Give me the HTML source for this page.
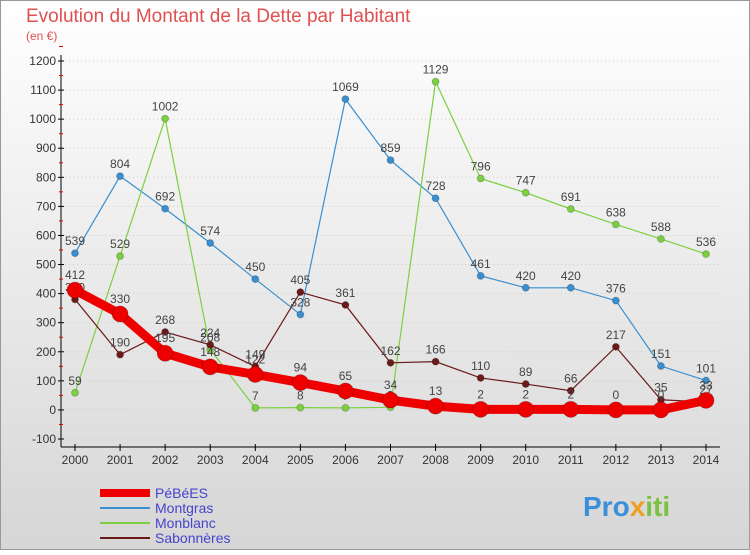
<!DOCTYPE html>
<html><head><meta charset="utf-8"><style>
body{margin:0;width:750px;height:550px;overflow:hidden;font-family:"Liberation Sans",sans-serif;}
</style></head><body>
<svg width="750" height="550" viewBox="0 0 750 550">
<defs><linearGradient id="bg" x1="0" y1="0" x2="0" y2="1"><stop offset="0" stop-color="#ffffff"/><stop offset="1" stop-color="#d6d6d6"/></linearGradient></defs>
<rect x="0.5" y="0.5" width="749" height="549" fill="url(#bg)" stroke="#999"/>
<text x="26" y="22" font-size="19" fill="#e05050">Evolution du Montant de la Dette par Habitant</text>
<text x="26" y="40" font-size="12" fill="#e05050">(en €)</text>
<g id="axes"></g><g id="series"></g><g id="legend"></g>
<text x="583" y="516" font-size="28" font-weight="bold" fill="#3a8fd8">Pro<tspan fill="#f0a020">x</tspan><tspan fill="#7cc242">iti</tspan></text>
</svg>
<script>
const years=[2000,2001,2002,2003,2004,2005,2006,2007,2008,2009,2010,2011,2012,2013,2014];
const yTicks=[-100,0,100,200,300,400,500,600,700,800,900,1000,1100,1200];
const pebees=[412,330,195,148,122,94,65,34,13,2,2,2,0,0,33];
const montgras=[539,804,692,574,450,328,1069,859,728,461,420,420,376,151,101];
const monblanc=[59,529,1002,208,7,8,7,9,1129,796,747,691,638,588,536];
const sabonneres=[380,190,268,224,149,405,361,162,166,110,89,66,217,35,27];
const names=["PéBéES","Montgras","Monblanc","Sabonnères"];
const NS="http://www.w3.org/2000/svg";
const X=i=>75+i*(706-75)/14;
const Y=v=>439-(v+100)*(378/1300);
function mk(t,a,p){const e=document.createElementNS(NS,t);for(const k in a)e.setAttribute(k,a[k]);p.appendChild(e);return e;}
const ax=document.getElementById('axes');
const yl=mk('line',{x1:61,y1:55,x2:61,y2:447,stroke:'#000'},ax);


const xl=mk('line',{x1:61,y1:447,x2:720,y2:447,stroke:'#000'},ax);


yTicks.forEach(v=>{
 mk('line',{x1:61,y1:Y(v),x2:720,y2:Y(v),stroke:'#ccc','stroke-dasharray':'1,3'},ax);
 mk('line',{x1:58,y1:Y(v),x2:64,y2:Y(v),stroke:'#000'},ax);
 mk('line',{x1:59,y1:Y(v+50),x2:63,y2:Y(v+50),stroke:'#d00'},ax);
 const t=mk('text',{x:56,y:Y(v)+4,'text-anchor':'end','font-size':12,fill:'#333'},ax);t.textContent=v;
 
 
});
years.forEach((yr,i)=>{
 mk('line',{x1:X(i),y1:444,x2:X(i),y2:451,stroke:'#000'},ax);
 const t=mk('text',{x:X(i),y:464,'text-anchor':'middle','font-size':12,fill:'#333'},ax);t.textContent=yr;
 
 
});
const sg=document.getElementById('series');
function series(data,color,w,r,name){
 const g=mk('g',{},sg);
 
 
 mk('polyline',{points:data.map((v,i)=>X(i)+','+Y(v)).join(' '),fill:'none',stroke:color,'stroke-width':w},g);
 data.forEach((v,i)=>{
  const c=mk('circle',{cx:X(i),cy:Y(v),r:r,fill:color,stroke:'rgba(0,0,0,0.2)'},g);
  
  
  const t=mk('text',{x:X(i),y:Y(v)-8-(r>5?3:0),'text-anchor':'middle','font-size':12,fill:'#444'},g);t.textContent=v;
 });
}
series(montgras,'#3a8fd0',1.2,3.5,'series-montgras');
series(monblanc,'#7cd040',1.2,3.5,'series-monblanc');
series(sabonneres,'#6b1a1a',1.2,3.5,'series-sabonneres');
series(pebees,'#ee0000',9,8,'series-pebees');
const lg=document.getElementById('legend');
const cols=['#ee0000','#3a8fd0','#7cd040','#6b1a1a'],ws=[8,2,2,2];
names.forEach((n,i)=>{
 const g=mk('g',{},lg);
 
 
 const y=493+i*15;
 mk('line',{x1:100,y1:y,x2:150,y2:y,stroke:cols[i],'stroke-width':ws[i]},g);
 const t=mk('text',{x:155,y:y+5,'font-size':14,fill:'#4444cc'},g);t.textContent=n;
});
</script>
</body></html>
